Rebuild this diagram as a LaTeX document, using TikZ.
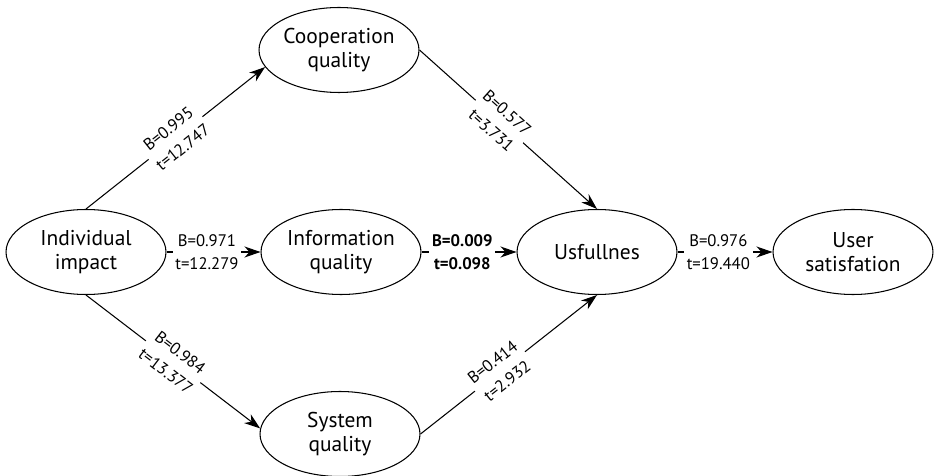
\documentclass[tikz,border=0pt]{standalone}
\usepackage{fontspec}
\setmainfont{PT Sans}
\usetikzlibrary{shapes.geometric,arrows.meta}

\begin{document}
\begin{tikzpicture}[x=0.02cm,y=-0.02cm,
        construct/.style={draw,ellipse,line width=0.6pt,minimum width=3.2cm,minimum height=1.7cm,inner sep=0pt,align=center,font=\fontsize{12.2}{14}\selectfont},
        effect/.style={draw,line width=0.6pt,-{Stealth[length=0.32cm,width=0.22cm,inset=0.1cm]}},
        coef/.style={fill=white,inner sep=1.5pt,align=center,font=\fontsize{9.5}{13.4}\selectfont}]
            \useasboundingbox (0,0) rectangle (934,476);
            \node[construct] (ind) at (86,252) {Individual\\impact};
            \node[construct] (coop) at (339,50) {Cooperation\\quality};
            \node[construct] (info) at (341,252) {Information\\quality};
            \node[construct] (sys) at (340,434) {System\\quality};
            \node[construct] (usf) at (597,252) {Usfullnes};
            \node[construct] (sat) at (853,252) {User\\satisfation};
            \draw[effect] (ind.north) -- node[coef,sloped,pos=0.5] {B=0.995\\t=12.747} (coop.193);
            \draw[effect] (ind.east) -- node[coef,pos=0.43] {B=0.971\\t=12.279} (info.west);
            \draw[effect] (ind.south) -- node[coef,sloped,pos=0.5] {B=0.984\\t=13.377} (sys.176);
            \draw[effect] (coop.east) -- node[coef,sloped,pos=0.45] {B=0.577\\t=3.731} (usf.north);
            \draw[effect] (info.east) -- node[coef,pos=0.43] {\textbf{B=0.009}\\\textbf{t=0.098}} (usf.west);
            \draw[effect] (sys.east) -- node[coef,sloped,pos=0.45] {B=0.414\\t=2.932} (usf.south);
            \draw[effect] (usf.east) -- node[coef,pos=0.43] {B=0.976\\t=19.440} (sat.west);
        \end{tikzpicture}
\end{document}
